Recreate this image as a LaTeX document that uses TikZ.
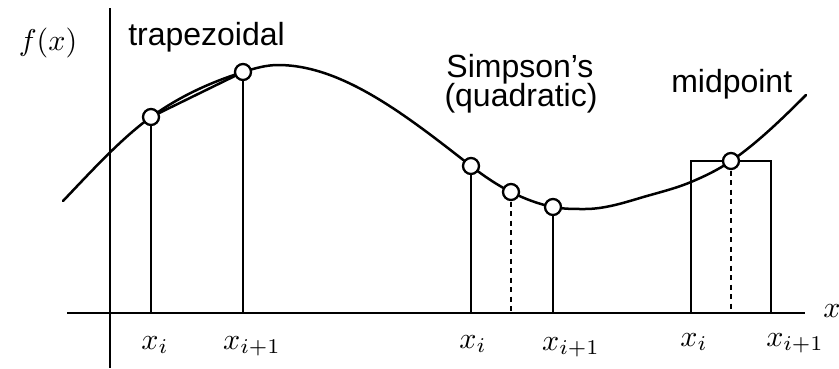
\documentclass[tikz,border=0pt]{standalone}
\usepackage{fontspec}
\newfontfamily\labelfont{Liberation Sans}
\newcommand{\mlab}[1]{\scalebox{3}{$#1$}}
\begin{document}
\begin{tikzpicture}[x=1pt,y=-1pt,
  line width=2.5pt,
  pt/.style={circle,draw,fill=white,line width=2.3pt,minimum size=16pt,inner sep=0pt},
  txt/.style={font=\labelfont\fontsize{32}{32}\selectfont,inner sep=0pt},
  mth/.style={font=\normalsize,inner sep=0pt,anchor=base},
  dotline/.style={dash pattern=on 5pt off 4.5pt,line width=2.5pt}]
\useasboundingbox (0,0) rectangle (839,368);
% axes
\coordinate (ytop) at (110,8);
\coordinate (ybot) at (110,368);
\coordinate (xl) at (67,313);
\coordinate (xr) at (805,313);
\draw (ytop) -- (ybot);
\draw (xl) -- (xr);
% curve
\draw[line cap=round] (63,201)
  .. controls (92.3,170.2) and (121.7,138.1) .. (151,117)
  .. controls (181.7,94.9) and (212.3,81.8) .. (243,72)
  .. controls (254.7,68.3) and (266.3,65) .. (278,65)
  .. controls (342.3,65) and (406.7,115.8) .. (471,166)
  .. controls (484.3,176.4) and (497.7,185.3) .. (511,192)
  .. controls (525,199) and (539,204.2) .. (553,207)
  .. controls (563.7,209.1) and (574.3,209) .. (585,209)
  .. controls (603.3,209) and (621.7,203.5) .. (640,198)
  .. controls (657,192.9) and (674,189.1) .. (691,182)
  .. controls (704.3,176.4) and (717.7,170.1) .. (731,161)
  .. controls (756,144) and (781,120) .. (806,95);
% base coordinates
\coordinate (b1) at (151,313);
\coordinate (b2) at (243,313);
\coordinate (b3) at (471,313);
\coordinate (b4) at (511,313);
\coordinate (b5) at (553,313);
\coordinate (b6) at (691,313);
\coordinate (b7) at (731,313);
\coordinate (b8) at (771,313);
\coordinate (r1) at (691,161);
\coordinate (r2) at (771,161);
% circles (positions)
\coordinate (c1) at (151,117);
\coordinate (c2) at (243,72);
\coordinate (c3) at (471,166);
\coordinate (c4) at (511,192);
\coordinate (c5) at (553,207);
\coordinate (c6) at (731,161);
% trapezoidal
\draw (c1) -- (b1);
\draw (c2) -- (b2);
\draw (c1) -- (c2);
% simpson
\draw (c3) -- (b3);
\draw[dotline] (c4) -- (b4);
\draw (c5) -- (b5);
% midpoint
\draw (b6) -- (r1) -- (r2) -- (b8);
\draw[dotline] (c6) -- (b7);
% circles
\node[pt] (p1) at (c1) {};
\node[pt] (p2) at (c2) {};
\node[pt] (p3) at (c3) {};
\node[pt] (p4) at (c4) {};
\node[pt] (p5) at (c5) {};
\node[pt] (p6) at (c6) {};
% labels
\node[mth] (fx) at (48,50) {\mlab{f(x)}};
\node[txt,anchor=base west] (trap) at (127,45) {trapezoidal};
\node[txt,anchor=base] (simp) at (520,77) {Simpson’s};
\node[txt,anchor=base] (quad) at (521,106) {(quadratic)};
\node[txt,anchor=base west] (mid) at (670,92) {midpoint};
\node[mth] (l1) at (155,349) {\mlab{x_i}};
\node[mth] (l2) at (252,349) {\mlab{x_{i+1}}};
\node[mth] (l3) at (473,348) {\mlab{x_i}};
\node[mth] (l4) at (571,350) {\mlab{x_{i+1}}};
\node[mth] (l5) at (694,346) {\mlab{x_i}};
\node[mth] (l6) at (795,346) {\mlab{x_{i+1}}};
\node[mth,anchor=base west] (xlab) at (822,317) {\mlab{x}};
\end{tikzpicture}
\end{document}
